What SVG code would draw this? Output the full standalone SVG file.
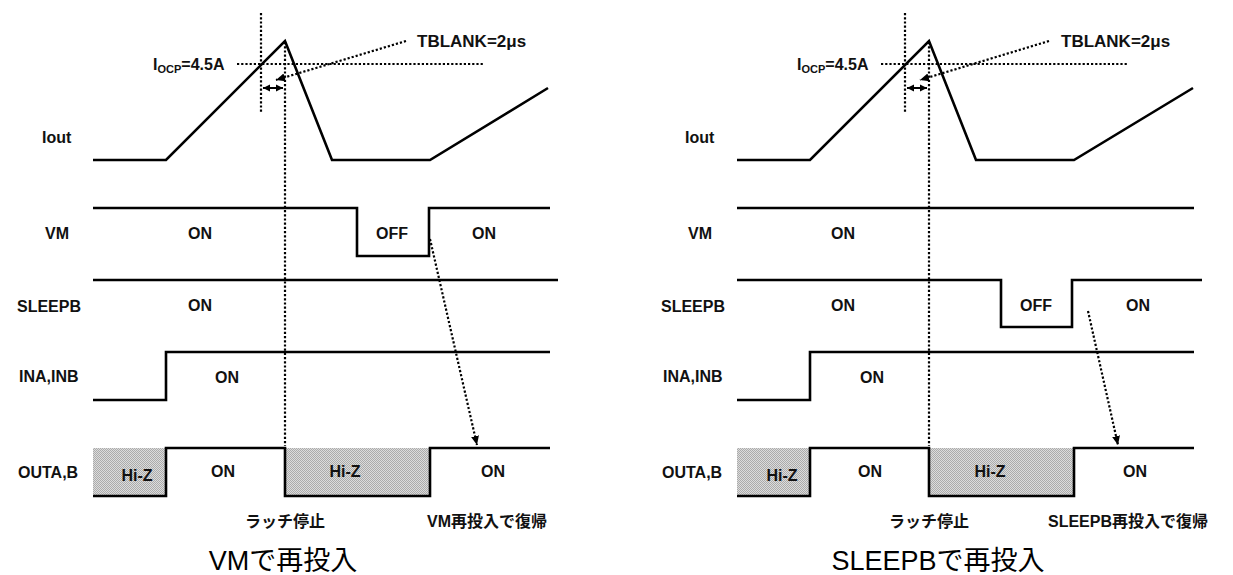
<svg xmlns="http://www.w3.org/2000/svg" width="1233" height="575" viewBox="0 0 1233 575">
<defs>
<style>
.sig{fill:none;stroke:#000;stroke-width:2.6;stroke-linejoin:miter;stroke-linecap:butt}
.dot{fill:none;stroke:#000;stroke-width:2.2;stroke-dasharray:2.2 2}
.thin{fill:none;stroke:#000;stroke-width:2}
.lbl{font-family:"Liberation Sans",Arial,sans-serif;font-weight:bold;font-size:16px;fill:#111}
.mid{text-anchor:middle}
.sub{font-size:11px}
.jp{font-family:"Liberation Sans","Noto Sans CJK JP",sans-serif;font-weight:bold;font-size:16px;fill:#111}
.cap{font-family:"Liberation Sans","Noto Sans CJK JP",sans-serif;font-size:27px;fill:#000;text-anchor:middle}
.hiz{fill:url(#stip);stroke:none}
</style>
<pattern id="stip" width="2" height="2" patternUnits="userSpaceOnUse">
<rect width="2" height="2" fill="#dcdcdc"/>
<rect width="1" height="1" fill="#ababab"/>
<rect x="1" y="1" width="1" height="1" fill="#ababab"/>
</pattern>
<marker id="ah" markerUnits="userSpaceOnUse" markerWidth="10" markerHeight="10" refX="9" refY="5" orient="auto">
<path d="M0,1 L9,5 L0,9 z" fill="#000"/>
</marker>
<marker id="sa" markerUnits="userSpaceOnUse" markerWidth="8" markerHeight="8" refX="7" refY="4" orient="auto-start-reverse">
<path d="M0,0.5 L7,4 L0,7.5 z" fill="#000"/>
</marker>
</defs>
<rect width="1233" height="575" fill="#fff"/>

<!-- LEFT PANEL -->
<g id="left-panel">
<g id="L-iout">
<text class="lbl" x="42" y="143">Iout</text>
<polyline class="sig" points="93,160 166,160 285,41 332,160 430,160 548,88"/>
</g>
<g id="L-vm">
<text class="lbl" x="45" y="239">VM</text>
<polyline class="sig" points="93,208 357,208 357,256 429,256 429,208 550,208"/>
<text class="lbl mid" x="200" y="239">ON</text>
<text class="lbl mid" x="392" y="239">OFF</text>
<text class="lbl mid" x="484" y="239">ON</text>
</g>
<g id="L-sleepb">
<text class="lbl" x="17" y="312">SLEEPB</text>
<line class="sig" x1="93" y1="280" x2="558" y2="280"/>
<text class="lbl mid" x="200" y="311">ON</text>
</g>
<g id="L-ina">
<text class="lbl" x="19" y="382">INA,INB</text>
<polyline class="sig" points="93,400 166,400 166,352 550,352"/>
<text class="lbl mid" x="227" y="383">ON</text>
</g>
<g id="L-outa">
<text class="lbl" x="18" y="478">OUTA,B</text>
<rect class="hiz" x="93" y="448" width="73" height="48"/>
<rect class="hiz" x="285" y="448" width="145" height="48"/>
<polyline class="sig" points="93,496 166,496 166,448 285,448 285,496 430,496 430,448 550,448"/>
<text class="lbl mid" x="137" y="481">Hi-Z</text>
<text class="lbl mid" x="223" y="477">ON</text>
<text class="lbl mid" x="345" y="477">Hi-Z</text>
<text class="lbl mid" x="493" y="477">ON</text>
</g>
<g id="L-annot">
<text class="lbl" x="153" y="70">I<tspan class="sub" dy="3">OCP</tspan><tspan dy="-3">=4.5A</tspan></text>
<text class="lbl" x="417" y="47" style="font-size:17px">TBLANK=2μs</text>
<text class="jp mid" x="285" y="527">ラッチ停止</text>
<text class="jp" x="427" y="527">VM再投入で復帰</text>
<text class="cap" x="283" y="570">VMで再投入</text>
</g>
<g id="L-connectors">
<line class="dot" x1="237" y1="64" x2="483" y2="64"/>
<line class="dot" x1="261" y1="13" x2="261" y2="113"/>
<line class="dot" x1="285" y1="42" x2="285" y2="446"/>
<line class="dot" x1="406" y1="41" x2="276" y2="80" marker-end="url(#ah)"/>
<line class="thin" x1="263" y1="88" x2="283" y2="88" marker-start="url(#sa)" marker-end="url(#sa)"/>
<line class="dot" x1="430" y1="239" x2="477" y2="445" marker-end="url(#ah)"/>
</g>
</g>

<!-- RIGHT PANEL -->
<g id="right-panel">
<g id="R-iout">
<text class="lbl" x="685" y="143">Iout</text>
<polyline class="sig" points="737,160 810,160 929,41 976,160 1074,160 1193,88"/>
</g>
<g id="R-vm">
<text class="lbl" x="688" y="239">VM</text>
<line class="sig" x1="737" y1="208" x2="1194" y2="208"/>
<text class="lbl mid" x="843" y="239">ON</text>
</g>
<g id="R-sleepb">
<text class="lbl" x="661" y="312">SLEEPB</text>
<polyline class="sig" points="737,280 1001,280 1001,327 1072,327 1072,280 1202,280"/>
<text class="lbl mid" x="843" y="311">ON</text>
<text class="lbl mid" x="1036" y="311">OFF</text>
<text class="lbl mid" x="1138" y="311">ON</text>
</g>
<g id="R-ina">
<text class="lbl" x="663" y="382">INA,INB</text>
<polyline class="sig" points="737,400 810,400 810,352 1194,352"/>
<text class="lbl mid" x="872" y="383">ON</text>
</g>
<g id="R-outa">
<text class="lbl" x="662" y="478">OUTA,B</text>
<rect class="hiz" x="737" y="448" width="73" height="48"/>
<rect class="hiz" x="929" y="448" width="145" height="48"/>
<polyline class="sig" points="737,496 810,496 810,448 929,448 929,496 1074,496 1074,448 1194,448"/>
<text class="lbl mid" x="782" y="481">Hi-Z</text>
<text class="lbl mid" x="870" y="477">ON</text>
<text class="lbl mid" x="990" y="477">Hi-Z</text>
<text class="lbl mid" x="1135" y="477">ON</text>
</g>
<g id="R-annot">
<text class="lbl" x="797" y="70">I<tspan class="sub" dy="3">OCP</tspan><tspan dy="-3">=4.5A</tspan></text>
<text class="lbl" x="1061" y="47" style="font-size:17px">TBLANK=2μs</text>
<text class="jp mid" x="929" y="527">ラッチ停止</text>
<text class="jp" x="1048" y="527">SLEEPB再投入で復帰</text>
<text class="cap" x="938" y="570">SLEEPBで再投入</text>
</g>
<g id="R-connectors">
<line class="dot" x1="881" y1="64" x2="1127" y2="64"/>
<line class="dot" x1="905" y1="13" x2="905" y2="113"/>
<line class="dot" x1="929" y1="42" x2="929" y2="446"/>
<line class="dot" x1="1049" y1="41" x2="920" y2="80" marker-end="url(#ah)"/>
<line class="thin" x1="907" y1="88" x2="927" y2="88" marker-start="url(#sa)" marker-end="url(#sa)"/>
<line class="dot" x1="1088" y1="311" x2="1118" y2="445" marker-end="url(#ah)"/>
</g>
</g>
</svg>
